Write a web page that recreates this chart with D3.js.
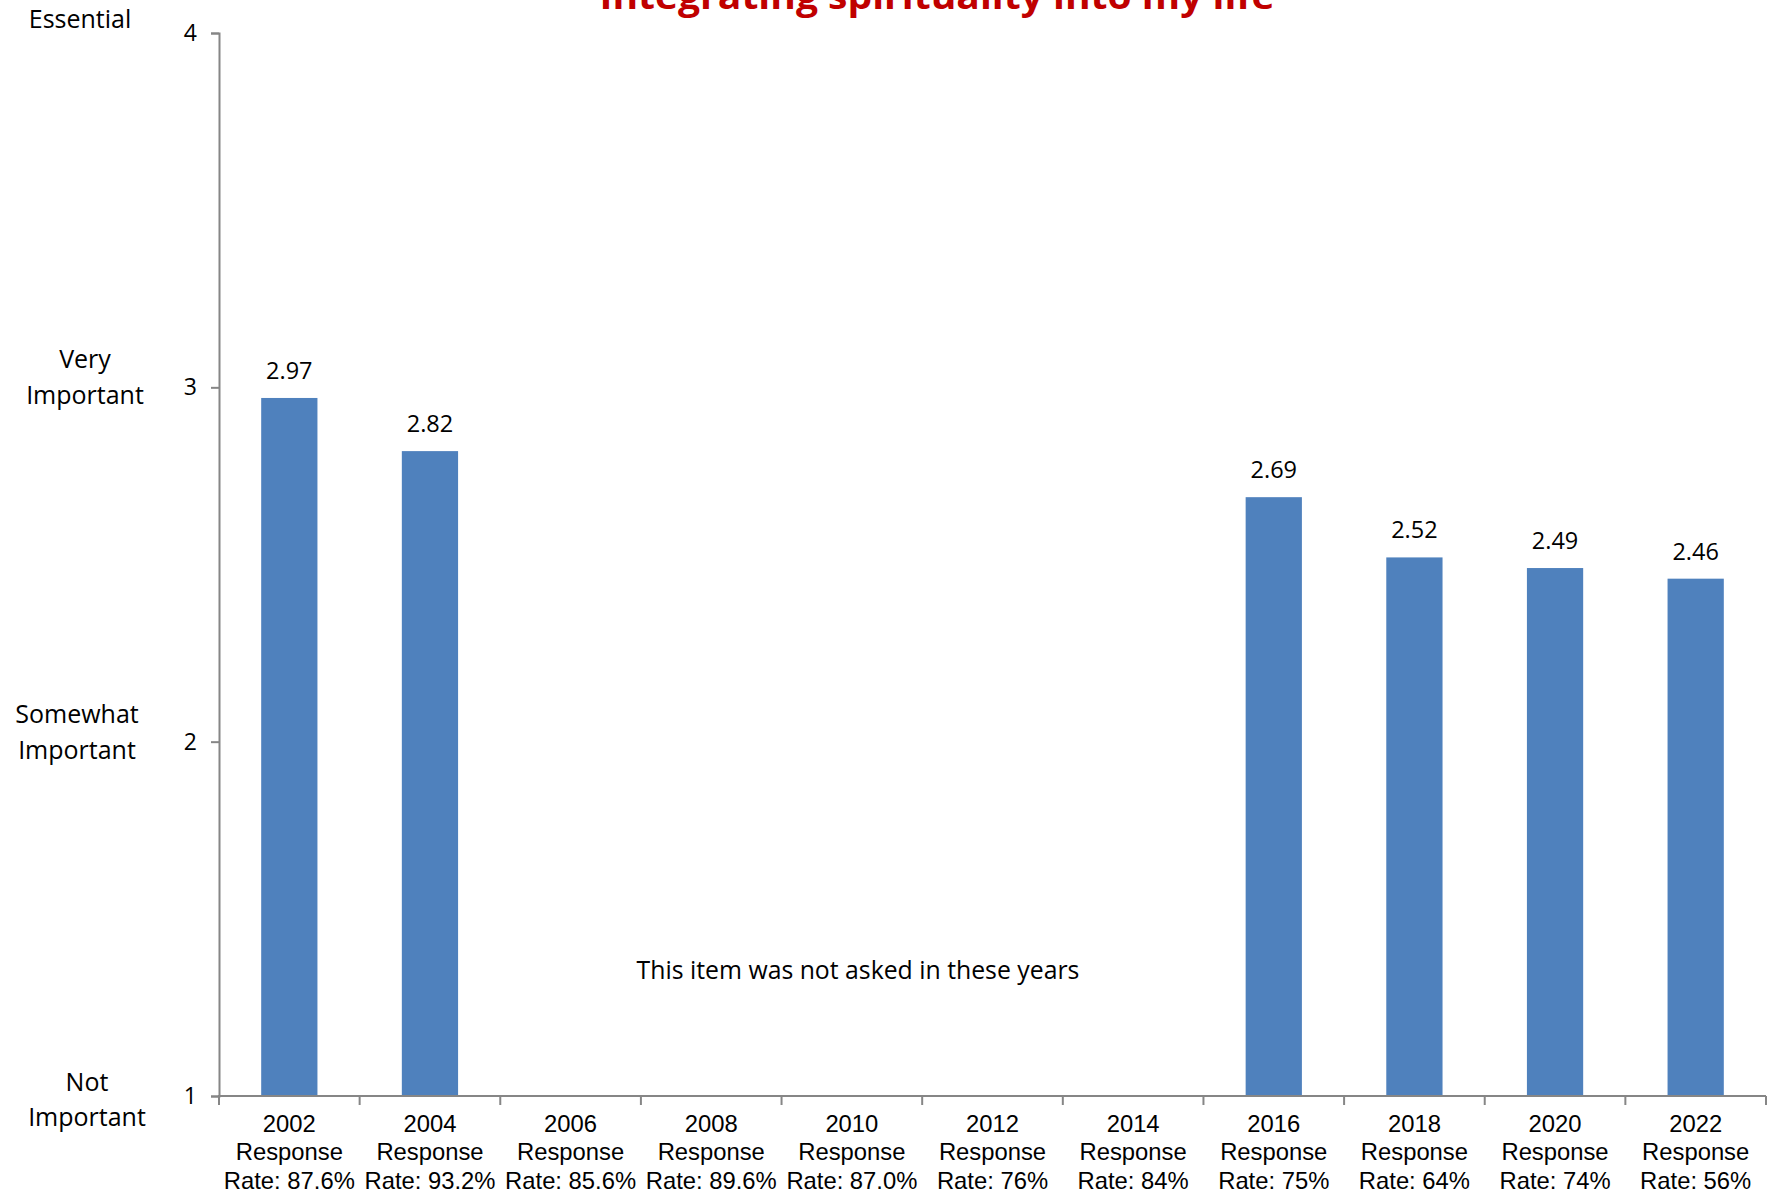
<!DOCTYPE html>
<html><head><meta charset="utf-8">
<script src="https://cdn.jsdelivr.net/npm/d3@7"></script>
<style>body{margin:0;background:#fff}</style>
</head><body>
<svg id="c" width="1769" height="1193"></svg>
<script>
const years = ["2002","2004","2006","2008","2010","2012","2014","2016","2018","2020","2022"];
const rates = ["87.6%","93.2%","85.6%","89.6%","87.0%","76%","84%","75%","64%","74%","56%"];
const values = [2.97, 2.82, null, null, null, null, null, 2.69, 2.52, 2.49, 2.46];
const yTicks = [1, 2, 3, 4];
const yTickNames = [["Not","Important"],["Somewhat","Important"],["Very","Important"],["Essential"]];
const title = "Integrating spirituality into my life";
const note = "This item was not asked in these years";

const svg = d3.select("#c");
const L = 219, R = 1766, T = 33, B = 1096;
const y = d3.scaleLinear().domain([1,4]).range([B,T]);
const x = d3.scaleBand().domain(years).range([L,R]).paddingInner(0.6).paddingOuter(0.3);
const xo = d3.scaleBand().domain(years).range([L,R]).padding(0);
const axisCol = "#868686";

// bars
svg.append("g").selectAll("rect").data(years.map((c,i)=>({c,v:values[i]})).filter(d=>d.v!=null))
  .join("rect").attr("x",d=>x(d.c)).attr("width",x.bandwidth())
  .attr("y",d=>y(d.v)).attr("height",d=>y(1)-y(d.v)).attr("fill","#4F81BD");

// value labels
svg.append("g").selectAll("text").data(years.map((c,i)=>({c,v:values[i]})).filter(d=>d.v!=null))
  .join("text").attr("x",d=>x(d.c)+x.bandwidth()/2).attr("y",d=>y(d.v)-19)
  .attr("text-anchor","middle").attr("font-family","Open Sans").attr("font-size",23.5).attr("fill","#000")
  .text(d=>d.v.toFixed(2));

// y axis
const ya = svg.append("g").attr("transform",`translate(${L},0)`)
  .call(d3.axisLeft(y).tickValues(yTicks).tickFormat(d3.format("d")).tickSize(8).tickPadding(14));
ya.select(".domain").attr("stroke",axisCol).attr("stroke-width",2);
ya.selectAll(".tick line").attr("stroke",axisCol).attr("stroke-width",2);
ya.selectAll(".tick text").attr("font-family","Open Sans").attr("font-size",23).attr("fill","#000");

// y category names
const yn = svg.append("g");
const nameCx = [87, 77, 85, 80];
const nameOff = [-12, -25, -26, -12];
yTicks.forEach((t,i)=>{
  yTickNames[i].forEach((ln,j)=>{
    yn.append("text").attr("x",nameCx[i]).attr("y",y(t)+nameOff[i] + j*35.5).attr("text-anchor","middle")
      .attr("dominant-baseline","middle").attr("font-family","Open Sans").attr("font-size",25)
      .attr("fill","#000").text(ln);
  });
});

// x axis
const xg = svg.append("g");
xg.append("line").attr("x1",L-1).attr("x2",R).attr("y1",B).attr("y2",B).attr("stroke",axisCol).attr("stroke-width",2);
const bounds = years.map(c=>xo(c)).concat([R]);
xg.selectAll("line.tk").data(bounds).join("line").attr("class","tk")
  .attr("x1",d=>d).attr("x2",d=>d).attr("y1",B).attr("y2",B+9).attr("stroke",axisCol).attr("stroke-width",2);
const xl = xg.selectAll("text").data(years.map((c,i)=>({c,r:rates[i]}))).join("text")
  .attr("text-anchor","middle").attr("font-family","Liberation Sans, Arial").attr("font-size",23.8).attr("fill","#000");
xl.each(function(d){
  const t = d3.select(this); const cx = xo(d.c)+xo.bandwidth()/2;
  [d.c,"Response","Rate: "+d.r].forEach((s,j)=>{
    t.append("tspan").attr("x",cx).attr("y",1132+j*28.3).text(s);
  });
});

// note
svg.append("text").attr("x",858).attr("y",979).attr("text-anchor","middle")
  .attr("font-family","Open Sans").attr("font-size",24.8).attr("fill","#000").text(note);

// title
svg.append("text").attr("x",937).attr("y",9).attr("text-anchor","middle")
  .attr("font-family","Open Sans").attr("font-weight","bold").attr("font-size",36).attr("fill","#C00000")
  .attr("textLength",675).attr("lengthAdjust","spacingAndGlyphs").text(title);
</script>
</body></html>
